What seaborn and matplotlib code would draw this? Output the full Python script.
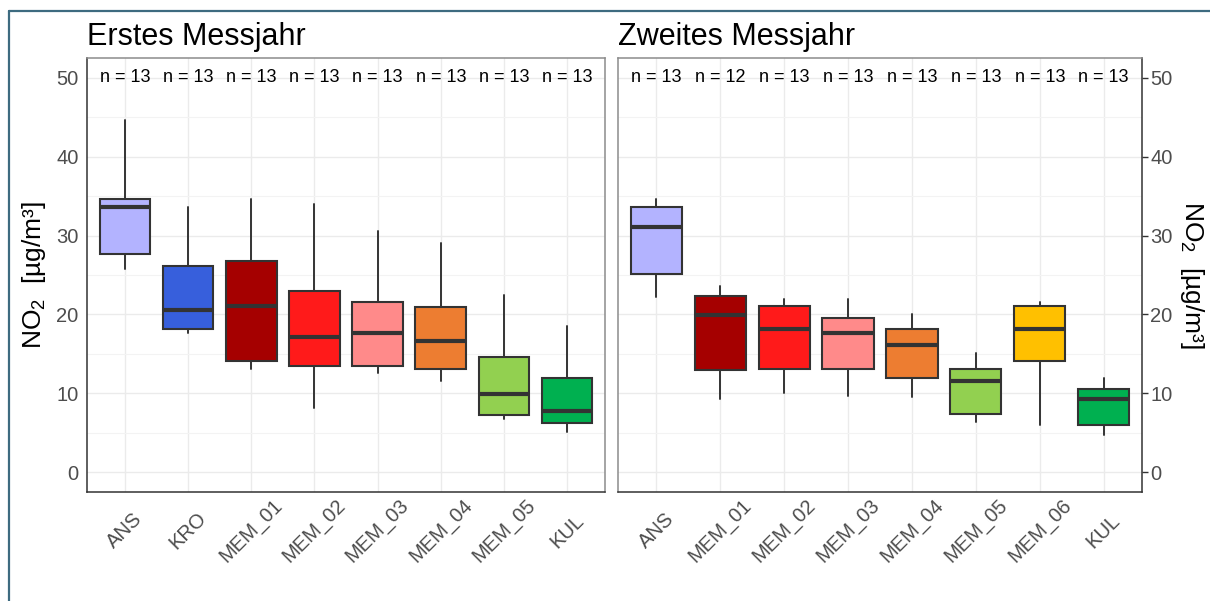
import matplotlib
matplotlib.use("Agg")
import matplotlib.pyplot as plt
import matplotlib.transforms as mtransforms
from matplotlib.lines import Line2D
import seaborn as sns

sns.set_theme(style="white")
plt.rcParams['font.family'] = ['Liberation Sans', 'DejaVu Sans']
plt.rcParams['mathtext.fontset'] = 'custom'
plt.rcParams['mathtext.rm'] = 'Liberation Sans'
plt.rcParams['mathtext.it'] = 'Liberation Sans'

# ---- data ----
titles = ["Erstes Messjahr", "Zweites Messjahr"]

stations_1 = ["ANS", "KRO", "MEM_01", "MEM_02", "MEM_03", "MEM_04", "MEM_05", "KUL"]
whislo_1 = [25.7, 17.6, 13.1, 8.1, 12.6, 11.6, 6.7, 5.1]
q1_1     = [27.6, 18.1, 14.1, 13.5, 13.5, 13.1, 7.3, 6.2]
med_1    = [33.6, 20.6, 21.1, 17.1, 17.6, 16.6, 9.9, 7.8]
q3_1     = [34.6, 26.1, 26.8, 23.0, 21.6, 21.0, 14.6, 12.0]
whishi_1 = [44.6, 33.6, 34.6, 34.0, 30.6, 29.1, 22.5, 18.5]
n_1      = [13, 13, 13, 13, 13, 13, 13, 13]

stations_2 = ["ANS", "MEM_01", "MEM_02", "MEM_03", "MEM_04", "MEM_05", "MEM_06", "KUL"]
whislo_2 = [22.2, 9.3, 10.0, 9.7, 9.6, 6.4, 6.0, 4.7]
q1_2     = [25.1, 12.9, 13.1, 13.1, 12.0, 7.4, 14.1, 6.0]
med_2    = [31.1, 19.9, 18.1, 17.6, 16.1, 11.6, 18.1, 9.3]
q3_2     = [33.6, 22.4, 21.1, 19.6, 18.1, 13.1, 21.1, 10.6]
whishi_2 = [34.6, 23.6, 22.0, 22.0, 20.1, 15.1, 21.6, 12.0]
n_2      = [13, 12, 13, 13, 13, 13, 13, 13]

station_colors = {
    "ANS": "#B3B3FF", "KRO": "#375FDC", "MEM_01": "#A50000",
    "MEM_02": "#FF1A1A", "MEM_03": "#FF8A8A", "MEM_04": "#ED7D31",
    "MEM_05": "#92D050", "MEM_06": "#FFC000", "KUL": "#00B050",
}

yticks = [0, 10, 20, 30, 40, 50]
ylabel = r"NO$_2$  [µg/m³]"

W, H = 1210, 601
fig = plt.figure(figsize=(W / 100, H / 100), dpi=100)
fig.patch.set_facecolor("white")

# outer frame
frame_c = "#3D6B80"
fig.add_artist(Line2D([9 / W, 1.0], [1 - 11 / H, 1 - 11 / H], transform=fig.transFigure,
                      color=frame_c, lw=1.6))
fig.add_artist(Line2D([9 / W, 9 / W], [0, 1 - 11 / H], transform=fig.transFigure,
                      color=frame_c, lw=1.6))

axL = fig.add_axes([87 / W, (H - 492) / H, 518 / W, 434 / H])
axR = fig.add_axes([618 / W, (H - 492) / H, 524 / W, 434 / H])

panels = [
    (axL, stations_1, whislo_1, q1_1, med_1, q3_1, whishi_1, n_1, "left"),
    (axR, stations_2, whislo_2, q1_2, med_2, q3_2, whishi_2, n_2, "right"),
]

dark = "#333333"
light_border = "#8C8C8C"

for i, (ax, st, lo, a, m, b, hi, n, side) in enumerate(panels):
    stats = []
    for k in range(len(st)):
        stats.append(dict(label=st[k], whislo=lo[k], q1=a[k], med=m[k], q3=b[k],
                          whishi=hi[k], fliers=[]))
    pos = list(range(len(st)))
    bp = ax.bxp(stats, positions=pos, widths=0.8, patch_artist=True, showcaps=False,
                boxprops=dict(edgecolor=dark, linewidth=1.5),
                medianprops=dict(color=dark, linewidth=3.0, solid_capstyle="butt"),
                whiskerprops=dict(color=dark, linewidth=1.4),
                manage_ticks=False, zorder=3)
    for patch, s in zip(bp["boxes"], st):
        patch.set_facecolor(station_colors[s])

    for k in range(len(st)):
        ax.text(pos[k], 50, f"n = {n[k]}", ha="center", va="center",
                fontsize=13, color="black", zorder=4)

    ax.set_xlim(-0.6, len(st) - 0.4)
    ax.set_ylim(-2.5, 52.5)
    ax.set_yticks(yticks)
    ax.set_yticks([5, 15, 25, 35, 45], minor=True)
    ax.set_xticks(pos)
    ax.set_facecolor("white")
    ax.grid(True, which="major", color="#EBEBEB", lw=1.0, zorder=0)
    ax.grid(True, which="minor", axis="y", color="#F3F3F3", lw=0.8, zorder=0)
    ax.set_axisbelow(True)

    ax.set_xticklabels(st, rotation=45, ha="center", va="center",
                       rotation_mode="anchor", fontsize=14.5, color="#4D4D4D")
    offset = mtransforms.ScaledTranslation(13 / 100, 0, fig.dpi_scale_trans)
    for lab in ax.get_xticklabels():
        lab.set_transform(lab.get_transform() + offset)
    ax.tick_params(axis="x", which="major", length=4, width=1.0, color=dark, pad=24)
    ax.tick_params(axis="y", which="major", length=4, width=1.0, color=dark,
                   labelsize=14.5, labelcolor="#4D4D4D", pad=2)
    ax.tick_params(axis="y", which="minor", length=0)

    for sp in ax.spines.values():
        sp.set_linewidth(1.1)
        sp.set_color(light_border)
    ax.spines["bottom"].set_color(dark)
    if side == "left":
        ax.spines["left"].set_color(dark)
        ax.set_ylabel(ylabel, fontsize=19, color="black", labelpad=6)
    else:
        ax.spines["right"].set_color(dark)
        ax.yaxis.tick_right()
        ax.yaxis.set_label_position("right")
        ax.tick_params(axis="y", which="major", labelsize=14.5, labelcolor="#4D4D4D",
                       length=4, color=dark, pad=2)
        ax.set_ylabel(ylabel, fontsize=19, color="black", rotation=-90,
                      va="bottom", labelpad=4)

    ax.set_title(titles[i], loc="left", fontsize=22, color="black", pad=9)

fig.savefig("out.png", dpi=100, facecolor="white")
